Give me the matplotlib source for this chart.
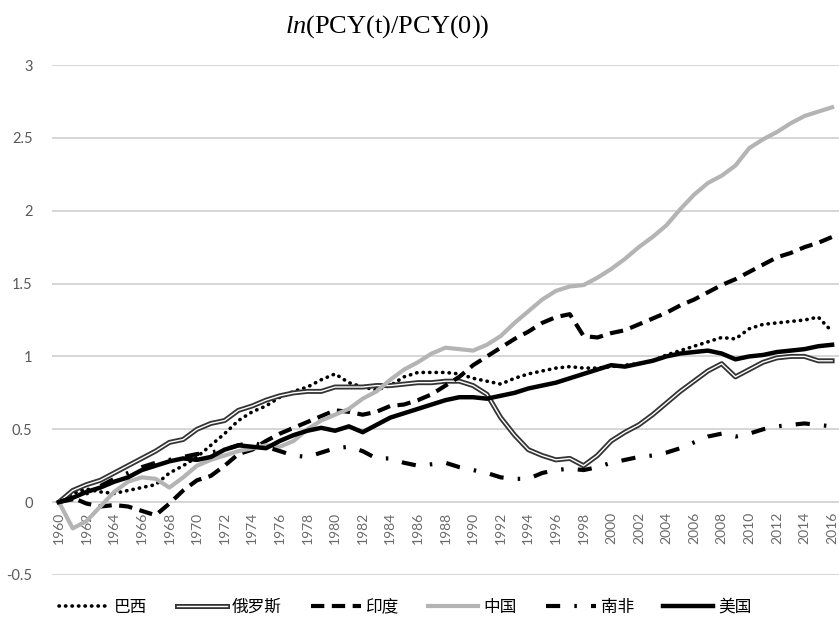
import numpy as np
import matplotlib
matplotlib.use("Agg")
import matplotlib.pyplot as plt
import matplotlib.patheffects as pe

years = np.arange(1960, 2017)

brazil = [0.00, 0.06, 0.09, 0.07, 0.06, 0.08, 0.10, 0.12, 0.20, 0.25,
          0.31, 0.39, 0.47, 0.56, 0.62, 0.66, 0.72, 0.76, 0.79, 0.84,
          0.88, 0.82, 0.79, 0.77, 0.80, 0.86, 0.89, 0.89, 0.89, 0.88,
          0.85, 0.83, 0.81, 0.85, 0.88, 0.90, 0.92, 0.93, 0.92, 0.92,
          0.93, 0.94, 0.95, 0.97, 1.01, 1.04, 1.07, 1.10, 1.13, 1.12,
          1.19, 1.22, 1.23, 1.24, 1.25, 1.27, 1.17]
russia = [0.00, 0.08, 0.12, 0.15, 0.20, 0.25, 0.30, 0.35, 0.41, 0.43,
          0.50, 0.54, 0.56, 0.63, 0.66, 0.70, 0.73, 0.75, 0.76, 0.76,
          0.79, 0.79, 0.79, 0.80, 0.80, 0.81, 0.82, 0.82, 0.83, 0.83,
          0.80, 0.74, 0.58, 0.46, 0.36, 0.32, 0.29, 0.30, 0.25, 0.32,
          0.42, 0.48, 0.53, 0.60, 0.68, 0.76, 0.83, 0.90, 0.95, 0.86,
          0.91, 0.96, 0.99, 1.00, 1.00, 0.97, 0.97]
india = [0.00, 0.03, -0.01, -0.03, -0.02, -0.03, -0.06, -0.09, -0.01, 0.08,
         0.15, 0.18, 0.25, 0.33, 0.36, 0.42, 0.47, 0.51, 0.55, 0.59,
         0.63, 0.62, 0.60, 0.62, 0.66, 0.67, 0.70, 0.74, 0.80, 0.86,
         0.94, 1.00, 1.06, 1.12, 1.17, 1.23, 1.27, 1.29, 1.14, 1.13,
         1.16, 1.18, 1.22, 1.26, 1.30, 1.35, 1.39, 1.44, 1.49, 1.53,
         1.58, 1.63, 1.68, 1.71, 1.75, 1.78, 1.82]
china = [0.00, -0.18, -0.13, -0.03, 0.07, 0.14, 0.17, 0.16, 0.10, 0.17,
         0.25, 0.29, 0.32, 0.35, 0.37, 0.39, 0.38, 0.42, 0.50, 0.56,
         0.60, 0.64, 0.71, 0.76, 0.84, 0.91, 0.96, 1.02, 1.06, 1.05,
         1.04, 1.08, 1.14, 1.23, 1.31, 1.39, 1.45, 1.48, 1.49, 1.54,
         1.60, 1.67, 1.75, 1.82, 1.90, 2.01, 2.11, 2.19, 2.24, 2.31,
         2.43, 2.49, 2.54, 2.60, 2.65, 2.68, 2.71]
south_africa = [0.00, 0.02, 0.06, 0.11, 0.16, 0.20, 0.24, 0.27, 0.29, 0.31,
                0.33, 0.34, 0.36, 0.39, 0.41, 0.38, 0.35, 0.32, 0.31, 0.34,
                0.37, 0.38, 0.35, 0.30, 0.30, 0.27, 0.25, 0.26, 0.27, 0.24,
                0.22, 0.20, 0.17, 0.16, 0.16, 0.20, 0.22, 0.23, 0.22, 0.24,
                0.27, 0.29, 0.31, 0.32, 0.34, 0.37, 0.41, 0.45, 0.47, 0.45,
                0.47, 0.50, 0.52, 0.53, 0.54, 0.53, 0.52]
usa = [0.00, 0.03, 0.07, 0.10, 0.14, 0.17, 0.22, 0.25, 0.28, 0.30,
       0.29, 0.31, 0.36, 0.39, 0.38, 0.37, 0.42, 0.46, 0.49, 0.51,
       0.49, 0.52, 0.48, 0.53, 0.58, 0.61, 0.64, 0.67, 0.70, 0.72,
       0.72, 0.71, 0.73, 0.75, 0.78, 0.80, 0.82, 0.85, 0.88, 0.91,
       0.94, 0.93, 0.95, 0.97, 1.00, 1.02, 1.03, 1.04, 1.02, 0.98,
       1.00, 1.01, 1.03, 1.04, 1.05, 1.07, 1.08]

labels = ["巴西", "俄罗斯", "印度", "中国", "南非", "美国"]
y_ticks = [-0.5, 0, 0.5, 1, 1.5, 2, 2.5, 3]

plt.rcParams["mathtext.fontset"] = "custom"
plt.rcParams["mathtext.it"] = "Liberation Serif:italic"
plt.rcParams["mathtext.rm"] = "Liberation Serif"

fig = plt.figure(figsize=(8.39, 6.21), dpi=100)
ax = fig.add_axes([0.062, 0.0741, 0.938, 0.8212])

# axis line sits at y=0 like the Excel original
for s in ax.spines.values():
    s.set_visible(False)
ax.spines["bottom"].set_position(("data", 0))

ax.plot(years, brazil, color="black", lw=2.6, linestyle=(0, (0.1, 1.7)),
        dash_capstyle="round", label=labels[0], zorder=3)
ax.plot(years, russia, color="white", lw=1.0, label=labels[1], zorder=3,
        path_effects=[pe.Stroke(linewidth=3.6, foreground="#333333"), pe.Normal()])
ax.plot(years, india, color="black", lw=3, linestyle=(0, (3.2, 1.8)),
        label=labels[2], zorder=3)
ax.plot(years, china, color="#b4b4b4", lw=3, label=labels[3], zorder=3)
ax.plot(years, south_africa, color="black", lw=3, linestyle=(0, (3.4, 3.4, 0.6, 3.4)),
        label=labels[4], zorder=3)
ax.plot(years, usa, color="black", lw=3.2, label=labels[5], zorder=4)

ax.set_xlim(1959.5, 2016.5)
ax.set_ylim(-0.5, 3)
ax.set_yticks(y_ticks)
ax.set_yticklabels([f"{v:g}" for v in y_ticks])
ax.set_xticks(years[::2])
ax.set_xticklabels([str(y) for y in years[::2]])

ax.grid(axis="y", color="#cfcfcf", lw=1.2)
ax.set_axisbelow(True)
ax.tick_params(axis="y", length=0, pad=14, labelsize=10.5, labelcolor="#595959")
ax.tick_params(axis="x", length=0, pad=7, labelsize=10, labelcolor="#6a6a6a",
               labelrotation=90)
for t in ax.get_xticklabels() + ax.get_yticklabels():
    t.set_family("Lato")

fig.text(0.462, 0.958, r"$\mathit{ln}$(PCY(t)/PCY(0))", ha="center", va="center",
         fontsize=19, family="Liberation Serif")

fig.legend(loc="center", bbox_to_anchor=(0.483, 0.022), ncol=6, frameon=False,
           prop={"family": ["Noto Sans CJK SC", "DejaVu Sans"], "size": 12},
           handlelength=3.0, handletextpad=0.3, columnspacing=1.75)

fig.savefig("out.png", dpi=100)
